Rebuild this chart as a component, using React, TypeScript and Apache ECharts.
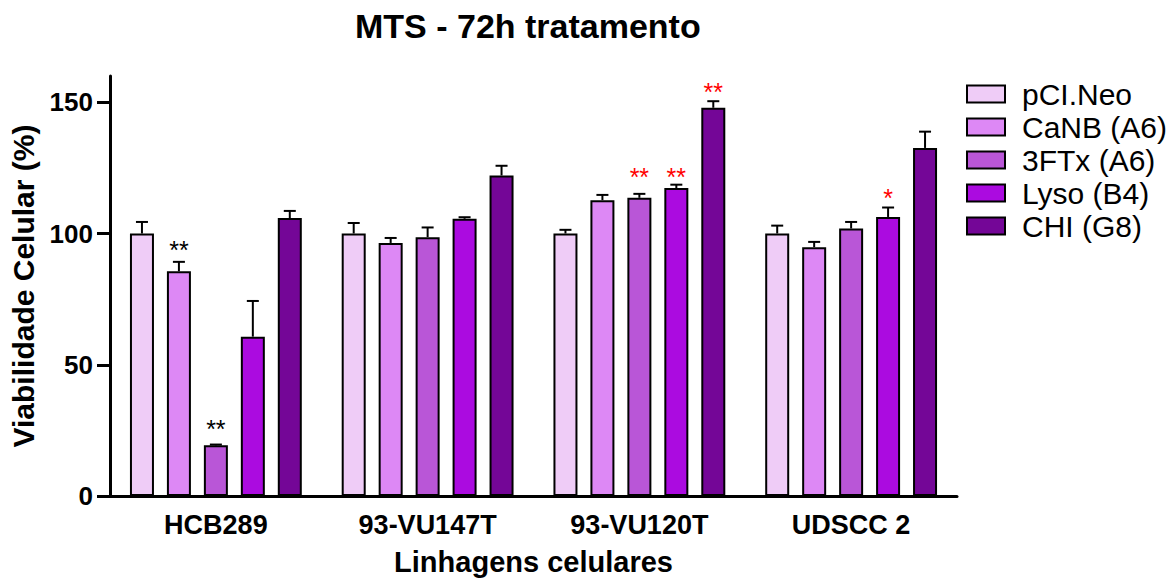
import React, { useEffect, useRef } from 'react';
import * as echarts from 'echarts';

// Cell lines on the x axis
const categories = ['HCB289', '93-VU147T', '93-VU120T', 'UDSCC 2'];
// Constructs (one bar series each)
const groups = ['pCI.Neo', 'CaNB (A6)', '3FTx (A6)', 'Lyso (B4)', 'CHI (G8)'];
const colors = ['#EFCCF7', '#DD88F5', '#B956D7', '#AB0BE0', '#740697'];

// Mean cell viability (%) per cell line
const pciNeo = [100, 100, 100, 100];
const canb = [85.6, 96.4, 112.7, 94.8];
const ftx = [19.3, 98.6, 113.6, 101.9];
const lyso = [60.7, 105.6, 117.3, 106.3];
const chi = [105.9, 122.1, 147.9, 132.6];

// Upper end of each error bar (mean + SD)
const pciNeoErr = [104.4, 104.0, 101.4, 103.0];
const canbErr = [89.2, 98.3, 114.7, 96.8];
const ftxErr = [19.6, 102.3, 115.1, 104.4];
const lysoErr = [74.3, 106.2, 118.6, 109.9];
const chiErr = [108.6, 125.8, 150.4, 138.8];

// Significance marks: [cell line, construct, height (%), text, colour]
const marks: [number, number, number, string, string][] = [
  [0, 1, 96.0, '**', '#000000'],
  [0, 2, 27.9, '**', '#000000'],
  [2, 2, 123.9, '**', '#FF0000'],
  [2, 3, 123.9, '**', '#FF0000'],
  [2, 4, 156.0, '**', '#FF0000'],
  [3, 3, 115.9, '*', '#FF0000'],
];

const yTicks = [0, 50, 100, 150];

const means = [pciNeo, canb, ftx, lyso, chi];
const errs = [pciNeoErr, canbErr, ftxErr, lysoErr, chiErr];

const FONT = "'Liberation Sans', Arial, Helvetica, sans-serif";
const BAR_WIDTH = 24;
const BAR_GAP = 0.54;
const STEP = BAR_WIDTH * (1 + BAR_GAP);
const CAP = 6;
const STAR_SIZE = 25;

export default function App() {
  const ref = useRef<HTMLDivElement>(null);

  useEffect(() => {
    document.body.style.margin = '0';
    if (!ref.current) return;
    const chart = echarts.init(ref.current, null, { renderer: 'svg' });

    const barSeries = groups.map((name, i) => ({
      name,
      type: 'bar',
      data: means[i],
      barWidth: BAR_WIDTH,
      barGap: `${BAR_GAP * 100}%`,
      itemStyle: { color: colors[i], borderColor: '#000000', borderWidth: 2 },
      z: 2,
    }));

    const errData: number[][] = [];
    means.forEach((arr, s) =>
      arr.forEach((v, c) => errData.push([c, s, v, errs[s][c]]))
    );

    const errSeries = {
      type: 'custom',
      name: 'errors',
      silent: true,
      z: 3,
      encode: { x: 0, y: 3 },
      data: errData,
      renderItem: (params: any, api: any) => {
        const c = api.value(0);
        const s = api.value(1);
        const base = api.coord([c, api.value(2)]);
        const top = api.coord([c, api.value(3)]);
        const x = base[0] + (s - 2) * STEP;
        const style = { stroke: '#000000', lineWidth: 2 };
        return {
          type: 'group',
          children: [
            { type: 'line', shape: { x1: x, y1: base[1], x2: x, y2: top[1] }, style },
            { type: 'line', shape: { x1: x - CAP, y1: top[1], x2: x + CAP, y2: top[1] }, style },
          ],
        };
      },
    };

    const markSeries = {
      type: 'custom',
      name: 'marks',
      silent: true,
      z: 4,
      encode: { x: 0, y: 2 },
      data: marks.map((m) => [m[0], m[1], m[2], m[3], m[4]]),
      renderItem: (params: any, api: any) => {
        const m = marks[params.dataIndex];
        const p = api.coord([m[0], m[2]]);
        return {
          type: 'text',
          x: p[0] + (m[1] - 2) * STEP,
          y: p[1] + STAR_SIZE * 0.23,
          style: {
            text: m[3],
            fill: m[4],
            font: `${STAR_SIZE}px ${FONT}`,
            textAlign: 'center',
            textVerticalAlign: 'middle',
          },
        };
      },
    };

    chart.setOption({
      animation: false,
      backgroundColor: '#ffffff',
      title: {
        text: 'MTS - 72h tratamento',
        left: 355,
        top: 9,
        padding: 0,
        textStyle: { fontFamily: FONT, fontSize: 34, fontWeight: 'bold', color: '#000000' },
      },
      legend: {
        data: groups,
        orient: 'vertical',
        left: 966,
        top: 79,
        padding: 0,
        icon: 'rect',
        itemWidth: 38,
        itemHeight: 17,
        itemGap: 3,
        selectedMode: false,
        textStyle: {
          fontFamily: FONT,
          fontSize: 30,
          color: '#000000',
          padding: [0, 0, 0, 12],
        },
      },
      grid: { left: 110, right: 213, top: 76, bottom: 83, containLabel: false, outerBoundsMode: 'none' },
      xAxis: {
        type: 'category',
        data: categories,
        axisLine: { lineStyle: { color: '#000000', width: 3 } },
        axisTick: { alignWithLabel: true, length: 10, lineStyle: { color: '#000000', width: 3 } },
        axisLabel: { color: '#000000', fontFamily: FONT, fontSize: 27, fontWeight: 'bold', margin: 15 },
        name: 'Linhagens celulares',
        nameLocation: 'middle',
        nameGap: 51,
        nameTextStyle: { color: '#000000', fontFamily: FONT, fontSize: 29, fontWeight: 'bold' },
      },
      yAxis: {
        type: 'value',
        min: 0,
        max: 160,
        splitLine: { show: false },
        axisLine: { show: true, lineStyle: { color: '#000000', width: 3 } },
        axisTick: { show: true, length: 13, customValues: yTicks, lineStyle: { color: '#000000', width: 3 } },
        axisLabel: {
          customValues: yTicks,
          color: '#000000',
          fontFamily: FONT,
          fontSize: 26,
          fontWeight: 'bold',
          margin: 17,
        },
        name: 'Viabilidade Celular (%)',
        nameLocation: 'middle',
        nameGap: 55,
        nameTextStyle: { color: '#000000', fontFamily: FONT, fontSize: 30, fontWeight: 'bold', padding: [0, 0, 8, 0] },
      },
      series: [...barSeries, errSeries, markSeries],
    });

    return () => chart.dispose();
  }, []);

  return <div ref={ref} style={{ width: 1170, height: 579 }} />;
}
